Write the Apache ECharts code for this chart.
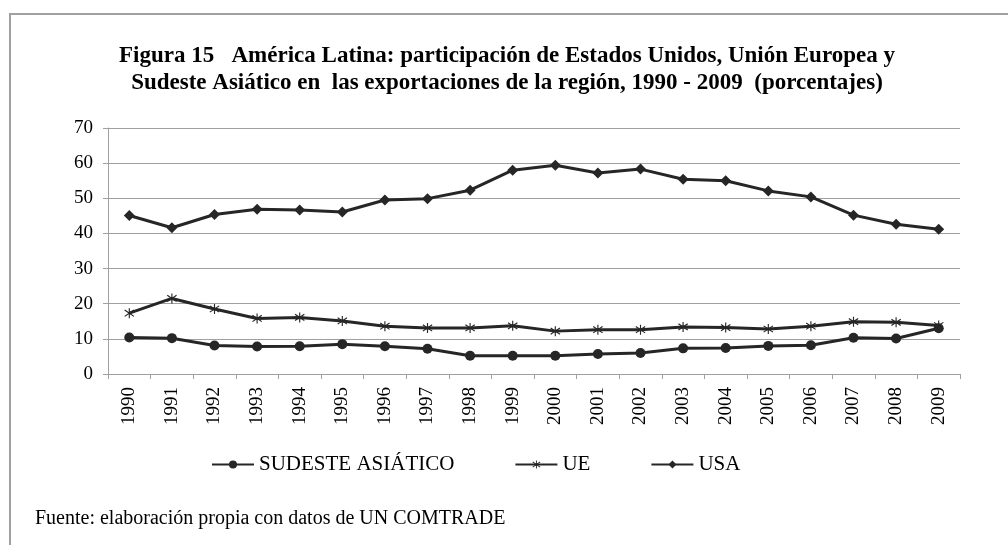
<!DOCTYPE html>
<html>
<head>
<meta charset="utf-8">
<script src="https://cdn.jsdelivr.net/npm/echarts@6/dist/echarts.min.js"></script>
<style>
  html, body { margin: 0; padding: 0; background: #fff; }
  #chart { width: 1008px; height: 545px; }
</style>
</head>
<body>
<div id="chart"></div>
<script>
const years = ['1990', '1991', '1992', '1993', '1994', '1995', '1996', '1997', '1998', '1999',
  '2000', '2001', '2002', '2003', '2004', '2005', '2006', '2007', '2008', '2009'];
const sudeste = [10.4, 10.2, 8.1, 7.8, 7.9, 8.5, 7.9, 7.2, 5.2, 5.2,
  5.2, 5.7, 6.0, 7.3, 7.4, 8.0, 8.2, 10.3, 10.1, 13.0];
const ue = [17.3, 21.5, 18.5, 15.8, 16.1, 15.1, 13.6, 13.1, 13.1, 13.7,
  12.2, 12.6, 12.6, 13.4, 13.2, 12.8, 13.6, 14.9, 14.7, 13.8];
const usa = [45.1, 41.6, 45.4, 46.9, 46.7, 46.1, 49.5, 49.9, 52.3, 58.0,
  59.4, 57.2, 58.3, 55.4, 55.0, 52.1, 50.4, 45.2, 42.6, 41.2];

const serif = '"Liberation Serif", "Times New Roman", serif';
const ink = '#262626';
const gray = '#a0a0a0';
// asterisk marker: vertical bar plus two diagonals
const asterisk = 'path://M4.5,0 L5.5,0 L5.5,10 L4.5,10 Z M0.6,2.3 L1.2,1.4 L9.4,7.7 L8.8,8.6 Z M8.8,1.4 L9.4,2.3 L1.2,8.6 L0.6,7.7 Z';

const chart = echarts.init(document.getElementById('chart'));

const mkSeries = (name, data, symbol, size) => ({
  name: name,
  type: 'line',
  data: data,
  symbol: symbol,
  symbolSize: size,
  showAllSymbol: true,
  lineStyle: { color: ink, width: 3 },
  itemStyle: { color: ink },
  emphasis: { disabled: true },
  z: 3
});

chart.setOption({
  animation: false,
  textStyle: { fontFamily: serif },
  graphic: [
    {
      type: 'rect',
      shape: { x: 10, y: 14, width: 1020, height: 560 },
      style: { fill: 'none', stroke: gray, lineWidth: 2 },
      silent: true
    },
    {
      type: 'text',
      left: 35,
      top: 509,
      style: {
        text: 'Fuente: elaboración propia con datos de UN COMTRADE',
        font: '20px ' + serif,
        fill: '#000'
      }
    }
  ],
  title: {
    text: 'Figura 15   América Latina: participación de Estados Unidos, Unión Europea y\nSudeste Asiático en  las exportaciones de la región, 1990 - 2009  (porcentajes)',
    left: 502,
    textAlign: 'center',
    top: 38,
    textStyle: {
      fontFamily: serif,
      fontWeight: 'bold',
      fontSize: 23,
      lineHeight: 27,
      color: '#000'
    }
  },
  legend: {
    top: 449,
    left: 206,
    itemWidth: 42,
    itemHeight: 10,
    itemGap: 60,
    textStyle: { fontFamily: serif, fontSize: 21, color: '#000' },
    data: ['SUDESTE ASIÁTICO', 'UE', 'USA']
  },
  grid: { left: 108, right: 48, top: 128, bottom: 171 },
  xAxis: {
    type: 'category',
    data: years,
    boundaryGap: true,
    axisLine: { lineStyle: { color: gray, width: 1 } },
    axisTick: { show: true, length: 5, lineStyle: { color: gray } },
    axisLabel: {
      rotate: 90,
      margin: 13,
      fontFamily: serif,
      fontSize: 19,
      color: '#000',
      interval: 0
    },
    splitLine: { show: false }
  },
  yAxis: {
    type: 'value',
    min: 0,
    max: 70,
    interval: 10,
    axisLine: { show: true, lineStyle: { color: gray, width: 1 } },
    axisTick: { show: true, length: 5, lineStyle: { color: gray } },
    axisLabel: { fontFamily: serif, fontSize: 19, color: '#000', margin: 15 },
    splitLine: { lineStyle: { color: gray, width: 1 } }
  },
  series: [
    mkSeries('SUDESTE ASIÁTICO', sudeste, 'circle', 10),
    mkSeries('UE', ue, asterisk, 10),
    mkSeries('USA', usa, 'diamond', 11)
  ]
});
</script>
</body>
</html>
